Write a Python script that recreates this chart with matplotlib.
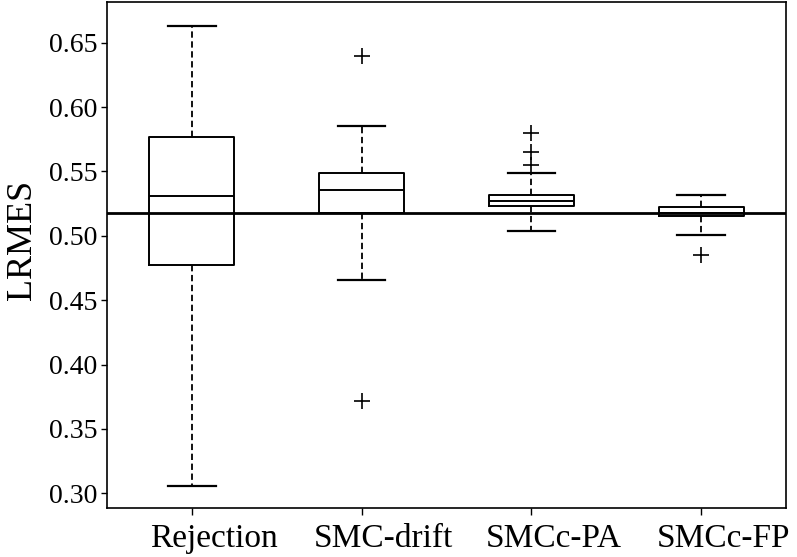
import numpy as np
import matplotlib.pyplot as plt
from matplotlib.transforms import ScaledTranslation

plt.rcParams['font.family'] = ['Liberation Serif', 'DejaVu Serif']

methods = ['Rejection', 'SMC-drift', 'SMCc-PA', 'SMCc-FP']
# box statistics
whislo = [0.306, 0.466, 0.504, 0.501]
q1 = [0.477, 0.518, 0.523, 0.515]
med = [0.531, 0.5355, 0.527, 0.518]
q3 = [0.577, 0.549, 0.532, 0.5225]
whishi = [0.663, 0.585, 0.549, 0.532]
fliers = [[], [0.640, 0.372], [0.580, 0.565, 0.555], [0.485]]
ref_value = 0.518

stats = []
for i, name in enumerate(methods):
    stats.append({'label': name, 'whislo': whislo[i], 'q1': q1[i], 'med': med[i],
                  'q3': q3[i], 'whishi': whishi[i], 'fliers': fliers[i]})

fig = plt.figure(figsize=(7.97, 5.57), dpi=100)
ax = fig.add_axes([0.1343, 0.088, 0.852, 0.9084])

ax.bxp(stats, positions=[1, 2, 3, 4], widths=0.5, capwidths=0.28,
       boxprops=dict(color='black', linewidth=1.4),
       medianprops=dict(color='black', linewidth=1.4),
       whiskerprops=dict(color='black', linewidth=1.3, linestyle=(0, (3.5, 2))),
       capprops=dict(color='black', linewidth=1.6),
       flierprops=dict(marker='+', markeredgecolor='black', markersize=11,
                       markeredgewidth=1.2))

ax.axhline(ref_value, color='black', linewidth=2)

ax.set_xlim(0.5, 4.5)
ax.set_ylim(0.2886, 0.6816)
ax.set_yticks([0.30, 0.35, 0.40, 0.45, 0.50, 0.55, 0.60, 0.65])
ax.set_yticklabels(['%.2f' % v for v in ax.get_yticks()])
ax.tick_params(axis='y', labelsize=20, direction='out', length=4, width=1, pad=3)
ax.tick_params(axis='x', labelsize=24, direction='out', length=5, width=1, pad=6)
ax.set_ylabel('LRMES', fontsize=26)
ax.yaxis.set_label_coords(-0.100, 0.53)

# the category labels sit a little to the right of their ticks in the original
shift = ScaledTranslation(0.22, 0, fig.dpi_scale_trans)
for lab in ax.get_xticklabels():
    lab.set_transform(lab.get_transform() + shift)

for sp in ax.spines.values():
    sp.set_linewidth(1.2)

plt.savefig('out.png', dpi=100)
